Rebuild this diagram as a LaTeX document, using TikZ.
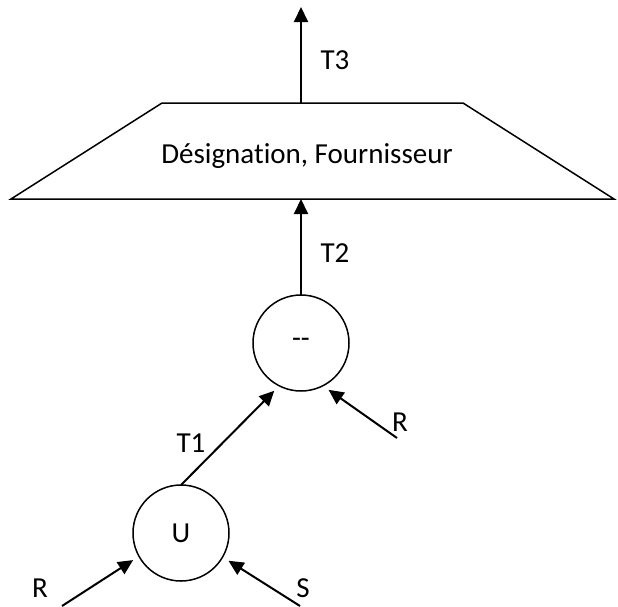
\documentclass[tikz,border=0pt]{standalone}
\usepackage{fontspec}
\setmainfont{Carlito}[Ligatures={NoCommon}]
\usetikzlibrary{arrows.meta}

\begin{document}
\begin{tikzpicture}[x=1pt, y=-1pt,
  font=\fontsize{29}{34}\selectfont,
  op/.style={draw, circle, line width=1.5pt, minimum size=96pt, inner sep=0pt, outer sep=0pt},
  proj/.style={draw, line width=1.5pt, line join=miter},
  arrow/.style={-{Triangle[length=15pt,width=14pt]}, line width=2pt},
  feed/.style={arrow, shorten >=7pt},
  lbl/.style={inner sep=0pt}
]
\useasboundingbox (0,0) rectangle (618,606);

% projection block
\coordinate (tl) at (162,103);
\coordinate (tr) at (463,103);
\coordinate (br) at (614,199);
\coordinate (bl) at (11,199);
\draw[proj] (tl) -- (tr) -- (br) -- (bl) -- cycle;
\node[lbl] (desig) at (307,156) {Désignation, Fournisseur};

\node[op] (minus) at (301,343) {{-}{-}};
\node[op] (u) at (181,533) {U};

\coordinate (res) at (301,7);
\coordinate (rin) at (62,606);
\coordinate (sin) at (300,606);
\coordinate (rin2) at (397,438);

% projection -> result
\draw[arrow] (minus.north |- tl) -- (res);
\node[lbl] (t3) at (335,60) {T3};

% difference -> projection
\draw[arrow] (minus.north) -- (minus.north |- bl);
\node[lbl] (t2) at (335,253) {T2};

% union -> difference
\draw[feed] (u.north) -- (minus.243);
\node[lbl] (t1) at (191,443) {T1};
\draw[feed] (rin2) -- (minus.297);
\node[lbl] (r2) at (400,422) {R};

% inputs of the union
\draw[feed] (rin) -- (u.209);
\node[lbl] (r1) at (40,588) {R};
\draw[feed] (sin) -- (u.330);
\node[lbl] (s) at (303,588) {S};

\end{tikzpicture}
\end{document}
